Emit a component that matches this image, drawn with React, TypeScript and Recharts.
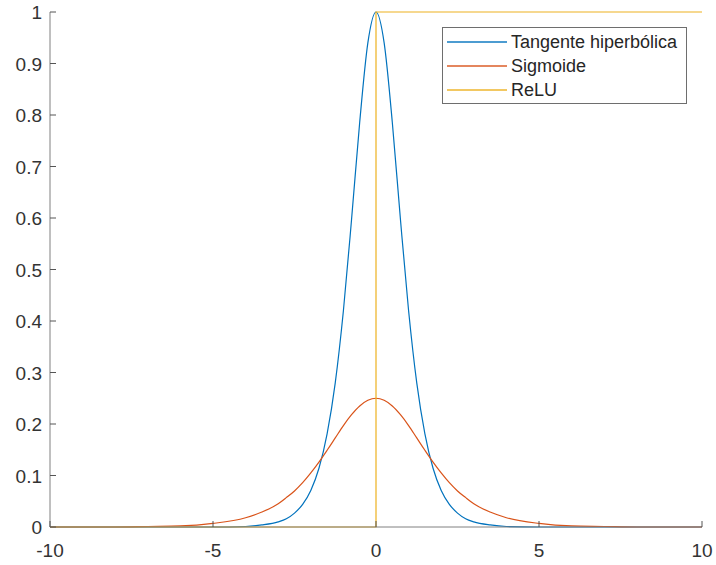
import React from 'react'
import { LineChart, Line, XAxis, YAxis } from 'recharts'

// puntos (derivadas de las funciones de activación)
const xValues = [
  -10, -9, -8, -7, -6, -5, -4, -3.5, -3, -2.75, -2.5, -2.25, -2, -1.75, -1.5, -1.25, -1, -0.75, -0.5, -0.25,
  0,
  0.25, 0.5, 0.75, 1, 1.25, 1.5, 1.75, 2, 2.25, 2.5, 2.75, 3, 3.5, 4, 5, 6, 7, 8, 9, 10,
]
const tanhValues = [
  0, 0, 0, 0, 0, 0, 0.001, 0.004, 0.01, 0.016, 0.027, 0.044, 0.071, 0.114, 0.181, 0.28, 0.42, 0.597, 0.786, 0.94,
  1,
  0.94, 0.786, 0.597, 0.42, 0.28, 0.181, 0.114, 0.071, 0.044, 0.027, 0.016, 0.01, 0.004, 0.001, 0, 0, 0, 0, 0, 0,
]
const sigmoidValues = [
  0, 0, 0, 0.001, 0.002, 0.007, 0.018, 0.029, 0.045, 0.057, 0.07, 0.086, 0.105, 0.126, 0.149, 0.173, 0.197, 0.218, 0.235, 0.246,
  0.25,
  0.246, 0.235, 0.218, 0.197, 0.173, 0.149, 0.126, 0.105, 0.086, 0.07, 0.057, 0.045, 0.029, 0.018, 0.007, 0.002, 0.001, 0, 0, 0,
]
const reluX = [-10, 0, 0, 10]
const reluValues = [0, 0, 1, 1]

const xTicks = [-10, -5, 0, 5, 10]
const yTicks = [0, 0.1, 0.2, 0.3, 0.4, 0.5, 0.6, 0.7, 0.8, 0.9, 1]

const series = [
  { key: 'tanh', name: 'Tangente hiperbólica', color: '#0072BD' },
  { key: 'sigmoid', name: 'Sigmoide', color: '#D95319' },
  { key: 'relu', name: 'ReLU', color: '#EDB120' },
]

const curveData = xValues.map((x, i) => ({ x, tanh: tanhValues[i], sigmoid: sigmoidValues[i] }))
const reluData = reluX.map((x, i) => ({ x, relu: reluValues[i] }))

const W = 716
const H = 565
const LEFT = 50
const RIGHT = 702
const TOP = 12
const BOTTOM = 527
const AXIS = '#808080'
const TEXT = '#333333'
const FONT = 'Arial, "Liberation Sans", Helvetica, sans-serif'
const LINE_W = 1.2

const XTick = (props: any) => {
  const { x, payload } = props
  return (
    <g>
      <line x1={x} x2={x} y1={BOTTOM} y2={BOTTOM - 6} stroke="#555" strokeWidth={1} />
      <text x={x} y={BOTTOM + 30} textAnchor="middle" fontSize={19} fill={TEXT} fontFamily={FONT}>
        {payload.value}
      </text>
    </g>
  )
}

const YTick = (props: any) => {
  const { y, payload } = props
  return (
    <g>
      <line x1={LEFT} x2={LEFT + 6} y1={y} y2={y} stroke="#555" strokeWidth={1} />
      <text x={LEFT - 8} y={y + 7} textAnchor="end" fontSize={19} fill={TEXT} fontFamily={FONT}>
        {payload.value}
      </text>
    </g>
  )
}

const LegendBox = () => (
  <div
    style={{
      position: 'absolute',
      left: 442,
      top: 27,
      width: 245,
      height: 77,
      border: '1px solid #6e6e6e',
      background: '#fff',
      boxSizing: 'border-box',
      fontFamily: FONT,
      fontSize: 18,
      color: '#262626',
      paddingTop: 2,
    }}
  >
    {series.map((s) => (
      <div key={s.key} style={{ display: 'flex', alignItems: 'center', height: 24 }}>
        <div style={{ width: 60, height: 1.5, background: s.color, opacity: 0.7, marginLeft: 4, marginRight: 4 }} />
        <span>{s.name}</span>
      </div>
    ))}
  </div>
)

export default function App() {
  return (
    <div style={{ position: 'absolute', left: 0, top: 0, width: W, height: H, background: '#fff' }}>
      <LineChart
        width={W}
        height={H}
        margin={{ top: TOP, right: W - RIGHT, bottom: 0, left: 0 }}
      >
        <XAxis
          dataKey="x"
          type="number"
          domain={[-10, 10]}
          ticks={xTicks}
          tick={<XTick />}
          tickLine={false}
          axisLine={{ stroke: AXIS, strokeWidth: 1 }}
          height={H - BOTTOM}
          allowDuplicatedCategory={false}
        />
        <YAxis
          type="number"
          domain={[0, 1]}
          ticks={yTicks}
          tick={<YTick />}
          tickLine={false}
          axisLine={{ stroke: AXIS, strokeWidth: 1 }}
          width={LEFT}
        />
        <Line
          data={curveData}
          dataKey="tanh"
          name={series[0].name}
          type="monotone"
          stroke={series[0].color}
          strokeWidth={LINE_W}
          dot={false}
          isAnimationActive={false}
        />
        <Line
          data={curveData}
          dataKey="sigmoid"
          name={series[1].name}
          type="monotone"
          stroke={series[1].color}
          strokeWidth={LINE_W}
          dot={false}
          isAnimationActive={false}
        />
        <Line
          data={reluData}
          dataKey="relu"
          name={series[2].name}
          type="linear"
          stroke={series[2].color}
          strokeWidth={LINE_W}
          dot={false}
          isAnimationActive={false}
        />
      </LineChart>
      <LegendBox />
    </div>
  )
}
